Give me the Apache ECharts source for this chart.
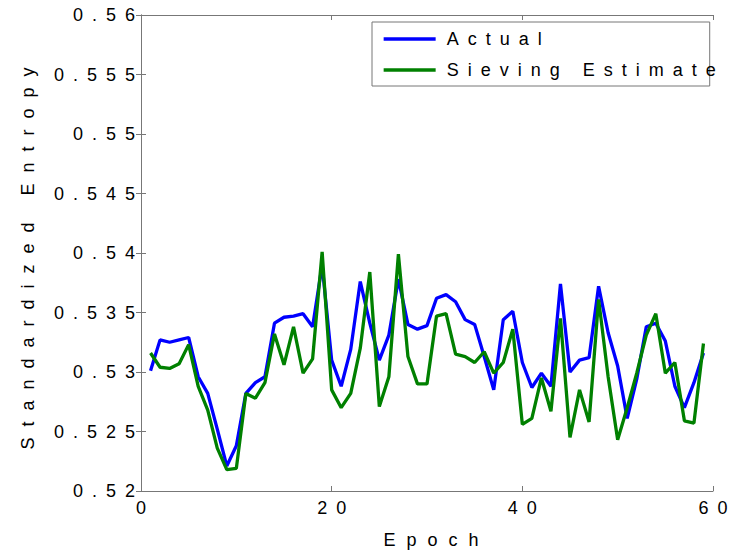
<!DOCTYPE html>
<html>
<head>
<meta charset="utf-8">
<script src="https://cdn.jsdelivr.net/npm/echarts@6/dist/echarts.min.js"></script>
<style>
  html, body { margin: 0; padding: 0; background: #fff; }
  #main { width: 738px; height: 554px; }
  #main svg text { letter-spacing: 9px; }
  #main svg text[style*="nmfont"] { letter-spacing: 11px; }
  #main svg text[style*="lgfont"] { letter-spacing: 9px; }
</style>
</head>
<body>
<div id="main"></div>
<script>
const epochs = [1,2,3,4,5,6,7,8,9,10,11,12,13,14,15,16,17,18,19,20,21,22,23,24,25,26,27,28,29,30,31,32,33,34,35,36,37,38,39,40,41,42,43,44,45,46,47,48,49,50,51,52,53,54,55,56,57,58,59];
const actual = [0.5301,0.5327,0.5325,0.5327,0.5329,0.5296,0.5282,0.5252,0.5221,0.5238,
  0.5282,0.5291,0.5296,0.5341,0.5346,0.5347,0.5349,0.5338,0.5390,0.5310,
  0.5288,0.5319,0.5376,0.5341,0.5310,0.5331,0.5378,0.5340,0.5336,0.5339,
  0.5362,0.5365,0.5359,0.5344,0.5340,0.5313,0.5285,0.5344,0.5351,0.5308,
  0.5287,0.5299,0.5288,0.5374,0.5300,0.5310,0.5312,0.5372,0.5333,0.5305,
  0.5261,0.5294,0.5338,0.5341,0.5326,0.5288,0.5270,0.5291,0.5316];
const sieving = [0.5316,0.5304,0.5303,0.5307,0.5323,0.5288,0.5268,0.5236,0.5218,0.5219,
  0.5282,0.5278,0.5291,0.5332,0.5306,0.5338,0.5299,0.5311,0.5401,0.5285,
  0.5270,0.5282,0.5320,0.5384,0.5271,0.5296,0.5399,0.5313,0.5290,0.5290,
  0.5347,0.5349,0.5315,0.5313,0.5308,0.5317,0.5299,0.5308,0.5336,0.5256,
  0.5261,0.5295,0.5267,0.5345,0.5245,0.5285,0.5258,0.5361,0.5296,0.5243,
  0.5270,0.5299,0.5331,0.5349,0.5299,0.5308,0.5259,0.5257,0.5324];
const seriesNames = ['Actual', 'Sieving Estimate'];
const xTicks = { min: 0, max: 60, interval: 20 };
const yTicks = { min: 0.52, max: 0.56, interval: 0.005 };

const FONT = "'Liberation Sans', Arial, Helvetica, sans-serif";
const NAME_FONT = "nmfont, 'Liberation Sans', Arial, sans-serif";
const LEG_FONT = "lgfont, 'Liberation Sans', Arial, sans-serif";
const AX = '#777';

function pairs(ys) { return epochs.map((e, i) => [e, ys[i]]); }

const chart = echarts.init(document.getElementById('main'), null, { renderer: 'svg' });
const baseX = {
  type: 'value', min: xTicks.min, max: xTicks.max, interval: xTicks.interval,
  axisLine: { show: true, lineStyle: { color: AX, width: 1 } },
  axisTick: { show: true, inside: true, length: 5, lineStyle: { color: AX } },
  splitLine: { show: false }
};
const baseY = {
  type: 'value', min: yTicks.min, max: yTicks.max, interval: yTicks.interval,
  axisLine: { show: true, lineStyle: { color: AX, width: 1 } },
  axisTick: { show: true, inside: true, length: 5, lineStyle: { color: AX } },
  splitLine: { show: false }
};
chart.setOption({
  animation: false,
  backgroundColor: '#fff',
  textStyle: { fontFamily: FONT },
  grid: { left: 141, right: 25, top: 15, bottom: 63, containLabel: false, outerBoundsMode: 'none' },
  legend: {
    data: seriesNames,
    orient: 'vertical',
    left: 372, top: 22,
    itemWidth: 52, itemHeight: 20, itemGap: 13,
    padding: [8, 129, 7, 10],
    backgroundColor: '#fff',
    borderColor: AX, borderWidth: 1, borderRadius: 0,
    itemStyle: { opacity: 0, color: 'rgba(0,0,0,0)', borderWidth: 0 },
    lineStyle: { width: 3.3 },
    textStyle: { fontSize: 18, color: '#000', fontFamily: LEG_FONT, padding: [0, 0, 0, 6] }
  },
  xAxis: [
    Object.assign({}, baseX, {
      position: 'bottom',
      name: 'Epoch', nameLocation: 'middle', nameGap: 40,
      nameTextStyle: { fontSize: 18, color: '#000', fontFamily: NAME_FONT, padding: [0, 0, 0, 19] },
      axisLabel: { fontSize: 18, color: '#000', margin: 8, fontFamily: FONT, padding: [0, 0, 0, 9] }
    }),
    Object.assign({}, baseX, { position: 'top', axisLabel: { show: false } })
  ],
  yAxis: [
    Object.assign({}, baseY, {
      position: 'left',
      name: 'Standardized Entropy', nameLocation: 'middle', nameGap: 104,
      nameTextStyle: { fontSize: 18, color: '#000', fontFamily: NAME_FONT },
      axisLabel: { fontSize: 18, color: '#000', margin: -3, fontFamily: FONT }
    }),
    Object.assign({}, baseY, { position: 'right', axisLabel: { show: false } })
  ],
  series: [
    { name: seriesNames[0], type: 'line', data: pairs(actual), symbol: 'none',
      lineStyle: { color: '#0000ff', width: 3.3 }, itemStyle: { color: '#0000ff' } },
    { name: seriesNames[1], type: 'line', data: pairs(sieving), symbol: 'none',
      lineStyle: { color: '#008000', width: 3.3 }, itemStyle: { color: '#008000' } }
  ]
});
</script>
</body>
</html>
